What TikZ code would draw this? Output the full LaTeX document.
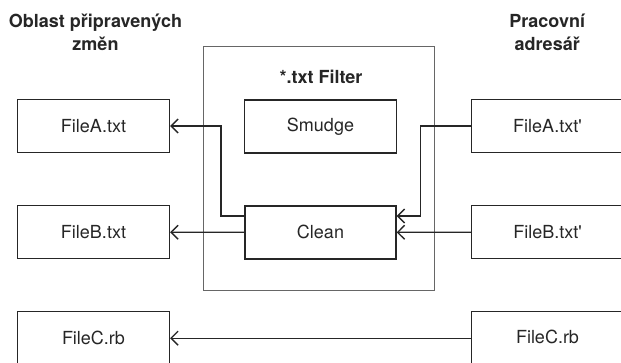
\documentclass[tikz,border=0pt]{standalone}
\usepackage{fontspec}
\setmainfont{TeX Gyre Heros}
\usetikzlibrary{arrows.meta}
\begin{document}
\begin{tikzpicture}[x=1pt,y=-1pt,
  filebox/.style={draw=black!85, line width=1.4pt, minimum width=152pt, minimum height=53pt, inner sep=0pt, font=\fontsize{18}{22}\selectfont, text=black!85},
  filterbox/.style={draw=black!60, line width=0.6pt, minimum width=231.5pt, minimum height=243.3pt, inner sep=0pt},
  heading/.style={font=\bfseries\fontsize{18}{23}\selectfont, align=center, text=black!85},
  arr/.style={draw=black!85, line width=1.3pt, -{Straight Barb[length=7pt,width=14pt,line width=1.3pt]}}]
\useasboundingbox (0,0) rectangle (621,362);
\clip (0,0) rectangle (621,362);
\fill[white] (0,0) rectangle (621,362);
% filter area
\node[filterbox] (filter) at (318.75,168.35) {};
\node[heading] (ftitle) at (321,76.7) {*.txt Filter};
% headings
\node[heading] (hleft) at (95.5,32) {Oblast připravených\\změn};
\node[heading] (hright) at (547.2,32) {Pracovní\\adresář};
% boxes
\node[filebox] (fAl) at (93.5,126) {FileA.txt};
\node[filebox] (fBl) at (93.5,232.2) {FileB.txt};
\node[filebox] (fCl) at (93.5,338.2) {FileC.rb};
\node[filebox] (smudge) at (320.5,126.3) {Smudge};
\node[filebox, minimum width=151pt] (clean) at (320.5,232.3) {Clean};
\node[filebox] (fAr) at (547.5,126) {FileA.txt\textquotesingle};
\node[filebox] (fBr) at (547.5,232.2) {FileB.txt\textquotesingle};
\node[filebox] (fCr) at (547.5,338.2) {\raisebox{3pt}{FileC.rb}};
% junctions
\coordinate (j1) at (420.5,216);
\coordinate (j2) at (221,216);
% connectors
\draw[arr] (fAr.west) -| (j1) -- (j1 -| clean.east);
\draw[arr] (j2 -| clean.west) -- (j2) |- (fAl.east);
\draw[arr] (clean.west) -- (fBl.east);
\draw[arr] (fBr.west) -- (clean.east);
\draw[arr] (fCr.west) -- (fCl.east);
\end{tikzpicture}
\end{document}
